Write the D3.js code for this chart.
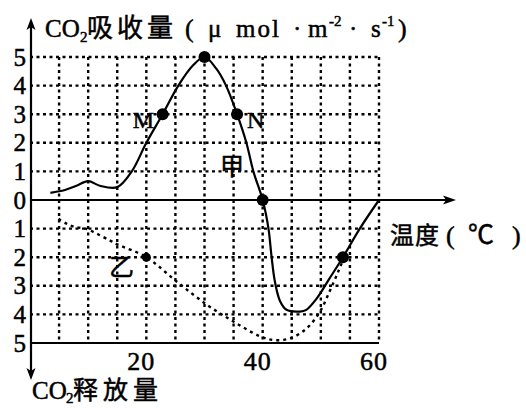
<!DOCTYPE html>
<html>
<head>
<meta charset="utf-8">
<script src="https://cdn.jsdelivr.net/npm/d3@7"></script>
<style>
  body { margin: 0; background: #fff; }
  text { font-family: "Liberation Serif", "Noto Sans CJK SC", serif; fill: #000; stroke: #000; stroke-width: 0.5; }
</style>
</head>
<body>
<script>
// 甲 curve (solid)
const jiaX = [3.5, 6, 8, 10, 12, 15, 17.5, 20, 22.8, 25.5, 28, 30, 32, 33.7, 35.6, 37.2, 38.4, 40, 41, 41.5, 42.1, 43, 44.1, 46.4, 47.5, 49.3, 51.5, 53.8, 56.7, 60];
const jiaY = [0.25, 0.35, 0.5, 0.66, 0.5, 0.45, 1.0, 2.0, 3.0, 4.0, 4.7, 5.0, 4.6, 4.0, 3.0, 2.0, 1.0, 0, -1.0, -1.93, -2.85, -3.54, -3.84, -3.9, -3.84, -3.44, -2.74, -2.0, -1.0, 0];
// 乙 curve (dashed)
const yiX = [4.9, 6.3, 7.7, 9.7, 11.5, 13.7, 15, 20, 25.2, 30.4, 34.9, 39.5, 42, 44.7, 47.5, 49.8, 51.5, 53, 54];
const yiY = [-0.66, -0.83, -0.94, -1.01, -1.18, -1.41, -1.55, -2.0, -2.85, -3.66, -4.24, -4.76, -4.9, -4.84, -4.5, -3.92, -3.2, -2.5, -2.0];
// marked points
const dotX = [22.8, 30, 35.6, 40, 53.8, 20];
const dotY = [3, 5, 3, 0, -2, -2];
const dotR = [6, 6, 6, 6, 6, 4.5];

const xTicks = [20, 40, 60];
const yTicks = [-5, -4, -3, -2, -1, 0, 1, 2, 3, 4, 5];
const xGrid = [5, 10, 15, 20, 25, 30, 35, 40, 45, 50, 55, 60];
const yGrid = [-4, -3, -2, -1, 1, 2, 3, 4, 5];

const w = 526, h = 408;
const x = d3.scaleLinear().domain([0, 60]).range([30, 379]);
const y = d3.scaleLinear().domain([-5, 5]).range([343, 57]);

const svg = d3.select("body").append("svg").attr("width", w).attr("height", h);

// dotted grid
const dots = "3,3.5";
svg.append("g").selectAll("line").data(xGrid).join("line")
  .attr("x1", d => x(d)).attr("x2", d => x(d))
  .attr("y1", y(5)).attr("y2", y(-5))
  .attr("stroke", "#000").attr("stroke-width", 2.4).attr("stroke-dasharray", dots);
svg.append("g").selectAll("line").data(yGrid).join("line")
  .attr("x1", x(0)).attr("x2", x(60))
  .attr("y1", d => y(d)).attr("y2", d => y(d))
  .attr("stroke", "#000").attr("stroke-width", 2.4).attr("stroke-dasharray", dots);

// bottom solid line
svg.append("line").attr("x1", 31).attr("x2", x(60)).attr("y1", y(-5)).attr("y2", y(-5))
  .attr("stroke", "#000").attr("stroke-width", 2.2);

// axes
svg.append("line").attr("x1", 31).attr("x2", 448).attr("y1", y(0)).attr("y2", y(0))
  .attr("stroke", "#000").attr("stroke-width", 2.2);
svg.append("line").attr("x1", 31).attr("x2", 31).attr("y1", 26).attr("y2", 372)
  .attr("stroke", "#000").attr("stroke-width", 2.2);
svg.append("path").attr("d", `M456,${y(0)} L443,${y(0) - 4.5} L446,${y(0)} L443,${y(0) + 4.5}Z`);
svg.append("path").attr("d", "M31,18 L26.5,30 L31,27 L35.5,30Z");
svg.append("path").attr("d", "M31,380 L26.5,368 L31,371 L35.5,368Z");

// y tick labels
svg.append("g").selectAll("text").data(yTicks).join("text")
  .attr("x", 26).attr("y", d => y(d)).attr("dy", "0.34em")
  .attr("text-anchor", "end").attr("font-size", 25)
  .text(d => Math.abs(d));

// x tick labels
svg.append("g").selectAll("text").data(xTicks).join("text")
  .attr("x", d => x(d) - 5).attr("y", 370)
  .attr("text-anchor", "middle").attr("font-size", 26).attr("letter-spacing", 1)
  .text(d => d);

// curves
const line = d3.line().x(d => x(d[0])).y(d => y(d[1])).curve(d3.curveCatmullRom.alpha(0.5));
svg.append("path").attr("d", line(d3.zip(yiX, yiY)))
  .attr("fill", "none").attr("stroke", "#000").attr("stroke-width", 2.4).attr("stroke-dasharray", "3,4");
svg.append("path").attr("d", line(d3.zip(jiaX, jiaY)))
  .attr("fill", "none").attr("stroke", "#000").attr("stroke-width", 2.2);

// points
svg.append("g").selectAll("circle").data(d3.range(dotX.length)).join("circle")
  .attr("cx", i => x(dotX[i])).attr("cy", i => y(dotY[i])).attr("r", i => dotR[i]);

// curve labels
const lab = (tx, ty, s, size, anchor) => svg.append("text").attr("x", tx).attr("y", ty)
  .attr("font-size", size).attr("text-anchor", anchor || "start").text(s);
lab(154, 128, "M", 24, "end");
lab(247, 128, "N", 24);
lab(220, 175, "甲", 24);
lab(109, 276, "乙", 25);

// title
const t = svg.append("text").attr("y", 37).attr("font-size", 25);
t.append("tspan").attr("x", 45).text("CO");
t.append("tspan").attr("x", 80).attr("font-size", 15).attr("dy", 5).text("2");
t.append("tspan").attr("x", 87).attr("font-size", 26).attr("letter-spacing", 4).attr("dy", -5).text("吸收量");
t.append("tspan").attr("x", 185).attr("font-size", 26).text("(");
t.append("tspan").attr("x", 208).text("μ");
t.append("tspan").attr("x", 236).attr("letter-spacing", 2).text("mol");
t.append("tspan").attr("x", 293).text("·");
t.append("tspan").attr("x", 308).text("m");
t.append("tspan").attr("x", 329).attr("font-size", 15).attr("dy", -11).text("-2");
t.append("tspan").attr("x", 349).attr("dy", 11).text("·");
t.append("tspan").attr("x", 371).text("s");
t.append("tspan").attr("x", 382).attr("font-size", 15).attr("dy", -11).text("-1");
t.append("tspan").attr("x", 398).attr("font-size", 26).attr("dy", 11).text(")");

// x axis title
const u = svg.append("text").attr("y", 244).attr("font-size", 24);
u.append("tspan").attr("x", 390).attr("letter-spacing", 1).text("温度");
u.append("tspan").attr("x", 446).attr("font-size", 26).text("(");
u.append("tspan").attr("x", 468).attr("font-size", 26).text("℃");
u.append("tspan").attr("x", 512).attr("font-size", 26).text(")");

// lower title
const b = svg.append("text").attr("y", 399).attr("font-size", 25);
b.append("tspan").attr("x", 32).text("CO");
b.append("tspan").attr("x", 66).attr("font-size", 15).attr("dy", 4).text("2");
b.append("tspan").attr("x", 73).attr("font-size", 25).attr("letter-spacing", 5).attr("dy", -4).text("释放量");
</script>
</body>
</html>
